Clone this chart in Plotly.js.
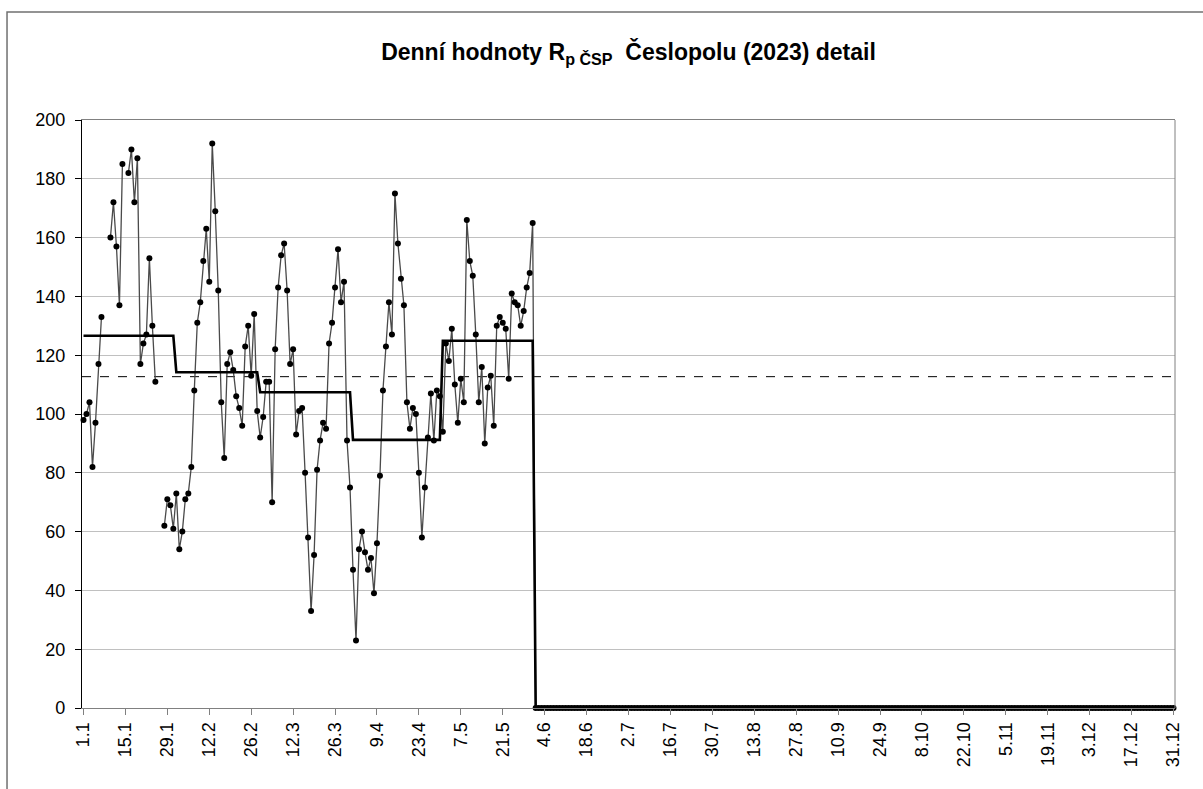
<!DOCTYPE html>
<html><head><meta charset="utf-8">
<script src="https://cdn.plot.ly/plotly-3.0.1.min.js"></script>
<style>html,body{margin:0;padding:0;background:#fff}#chart{width:1203px;height:789px}</style>
</head><body><div id="chart"></div>
<script>
// Daily values 2023 (null = missing day)
const jan = [98,100,104,82,97,117,133,null,null,160,172,157,137,185,null,182,190,172,187,117,124,127,153,130,111,null,null,62,71,69,61];
const feb = [73,54,60,71,73,82,108,131,138,152,163,145,192,169,142,104,85,117,121,115,106,102,96,123,130,113,134,101];
const mar = [92,99,111,111,70,122,143,154,158,142,117,122,93,101,102,80,58,33,52,81,91,97,95,124,131,143,156,138,145,91,75];
const apr = [47,23,54,60,53,47,51,39,56,79,108,123,138,127,175,158,146,137,104,95,102,100,80,58,75,92,107,91,108,106];
const may = [94,124,118,129,110,97,112,104,166,152,147,127,104,116,90,109,113,96,130,133,131,129,112,141,138,137,130,135,143,148,165];
const jun = [0,0,0,0,0,0,0,0,0,0,0,0,0,0,0,0,0,0,0,0,0,0,0,0,0,0,0,0,0,0];
const jul = [0,0,0,0,0,0,0,0,0,0,0,0,0,0,0,0,0,0,0,0,0,0,0,0,0,0,0,0,0,0,0];
const aug = [0,0,0,0,0,0,0,0,0,0,0,0,0,0,0,0,0,0,0,0,0,0,0,0,0,0,0,0,0,0,0];
const sep = [0,0,0,0,0,0,0,0,0,0,0,0,0,0,0,0,0,0,0,0,0,0,0,0,0,0,0,0,0,0];
const oct = [0,0,0,0,0,0,0,0,0,0,0,0,0,0,0,0,0,0,0,0,0,0,0,0,0,0,0,0,0,0,0];
const nov = [0,0,0,0,0,0,0,0,0,0,0,0,0,0,0,0,0,0,0,0,0,0,0,0,0,0,0,0,0,0];
const dec = [0,0,0,0,0,0,0,0,0,0,0,0,0,0,0,0,0,0,0,0,0,0,0,0,0,0,0,0,0,0,0];

const monthLengths = [31,28,31,30,31,30,31,31,30,31,30,31];
const monthlyMeans = [126.6,114.2,107.4,91.2,124.9,0,0,0,0,0,0,0];
const periodMean = 112.7;

const tickLabels = ["1.1","15.1","29.1","12.2","26.2","12.3","26.3","9.4","23.4","7.5","21.5","4.6","18.6","2.7","16.7","30.7","13.8","27.8","10.9","24.9","8.10","22.10","5.11","19.11","3.12","17.12","31.12"];
const tickStepDays = 14;

const daily = [].concat(jan,feb,mar,apr,may,jun,jul,aug,sep,oct,nov,dec);
const days = daily.map((_, i) => i);
const stepMeans = [];
monthLengths.forEach((n, m) => { for (let k = 0; k < n; k++) stepMeans.push(monthlyMeans[m]); });
const tickVals = tickLabels.map((_, i) => i * tickStepDays);

const FONT = 'Liberation Sans, Arial, sans-serif';

const traces = [
  {
    x: days, y: daily, type: 'scatter', mode: 'lines+markers',
    line: {color: '#4a4a4a', width: 1.3},
    marker: {color: '#000', size: 6},
    cliponaxis: false, connectgaps: false, hoverinfo: 'x+y'
  },
  {
    x: days, y: stepMeans, type: 'scatter', mode: 'lines',
    line: {color: '#000', width: 2.6},
    cliponaxis: false, hoverinfo: 'y'
  }
];

const layout = {
  width: 1203, height: 789,
  margin: {l: 82, r: 28, t: 120, b: 81, pad: 0},
  paper_bgcolor: '#fff', plot_bgcolor: '#fff',
  showlegend: false,
  font: {family: FONT, color: '#000'},
  title: {
    text: '<b>Denní hodnoty R<sub>p ČSP</sub>&nbsp;&nbsp;Česlopolu (2023) detail</b>',
    font: {family: FONT, size: 23, color: '#000'},
    x: 0.5, xref: 'paper', xanchor: 'center',
    y: 1 - 52/789, yref: 'container', yanchor: 'middle'
  },
  xaxis: {
    range: [-0.5, 364.5],
    tickmode: 'array', tickvals: tickVals, ticktext: tickLabels,
    tickangle: -90,
    ticks: 'outside', ticklen: 6, tickcolor: '#808080', tickwidth: 1,
    showline: true, linecolor: '#808080', linewidth: 1, mirror: true,
    showgrid: false, zeroline: false,
    tickfont: {family: FONT, size: 18, color: '#000'}
  },
  yaxis: {
    range: [0, 200], dtick: 20, tick0: 0,
    ticks: 'outside', ticklen: 6, tickcolor: '#000', tickwidth: 1,
    showline: true, linecolor: '#000', linewidth: 1.2,
    showgrid: true, gridcolor: '#c0c0c0', gridwidth: 1,
    zeroline: false,
    tickfont: {family: FONT, size: 18, color: '#000'},
    ticklabelstandoff: 6
  },
  shapes: [
    {type: 'line', xref: 'paper', yref: 'y', x0: 0, x1: 1, y0: periodMean, y1: periodMean,
     line: {color: '#000', width: 1, dash: 'dash'}, layer: 'below'},
    {type: 'line', xref: 'paper', yref: 'paper', x0: 1, x1: 1, y0: 0, y1: 1,
     line: {color: '#808080', width: 1}},
    {type: 'rect', xref: 'paper', yref: 'paper', x0: -0.0686, x1: 1.06, y0: -0.2, y1: 1.1837,
     line: {color: '#707070', width: 1.5}, fillcolor: 'rgba(0,0,0,0)'}
  ]
};

Plotly.newPlot('chart', traces, layout, {displayModeBar: false, staticPlot: true});
</script>
</body></html>
